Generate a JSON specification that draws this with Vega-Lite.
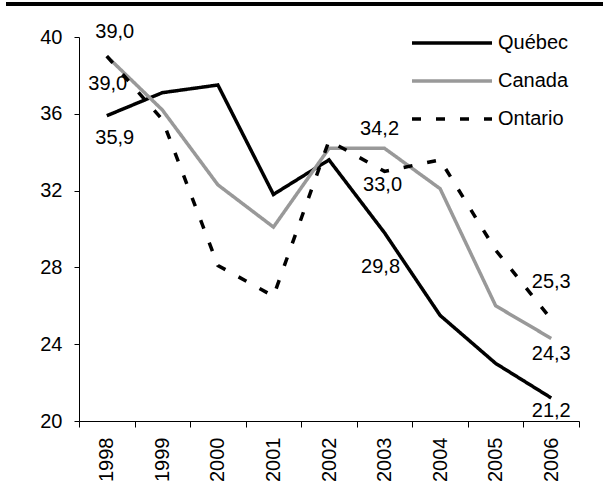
{
  "$schema": "https://vega.github.io/schema/vega-lite/v6.json",
  "background": "white",
  "padding": {"left": 6, "top": 2, "right": 0, "bottom": 0},
  "spacing": 16,
  "bounds": "full",
  "columns": 1,
  "config": {
    "view": {"stroke": null},
    "font": "Liberation Sans",
    "locale": {"number": {"decimal": ",", "thousands": " ", "grouping": [3], "currency": ["", " $"]}},
    "axis": {
      "domainColor": "#000000",
      "domainWidth": 1,
      "tickColor": "#000000",
      "tickWidth": 1,
      "labelColor": "#000000",
      "labelFont": "Liberation Sans",
      "labelFontSize": 20,
      "grid": false,
      "title": null
    },
    "legend": {
      "orient": "none",
      "legendX": 391,
      "legendY": 29,
      "title": null,
      "padding": 0,
      "symbolType": "M-7,0H1",
      "symbolSize": 400,
      "symbolStrokeWidth": 3.5,
      "labelFont": "Liberation Sans",
      "labelFontSize": 20,
      "labelColor": "#000000",
      "labelOffset": 4,
      "rowPadding": 16
    }
  },
  "datasets": {
    "rates": [
      {"region": "Québec", "year": "1998", "value": 35.9},
      {"region": "Québec", "year": "1999", "value": 37.1},
      {"region": "Québec", "year": "2000", "value": 37.5},
      {"region": "Québec", "year": "2001", "value": 31.8},
      {"region": "Québec", "year": "2002", "value": 33.6},
      {"region": "Québec", "year": "2003", "value": 29.8},
      {"region": "Québec", "year": "2004", "value": 25.5},
      {"region": "Québec", "year": "2005", "value": 23.0},
      {"region": "Québec", "year": "2006", "value": 21.2},
      {"region": "Canada", "year": "1998", "value": 39.0},
      {"region": "Canada", "year": "1999", "value": 36.2},
      {"region": "Canada", "year": "2000", "value": 32.3},
      {"region": "Canada", "year": "2001", "value": 30.1},
      {"region": "Canada", "year": "2002", "value": 34.2},
      {"region": "Canada", "year": "2003", "value": 34.2},
      {"region": "Canada", "year": "2004", "value": 32.1},
      {"region": "Canada", "year": "2005", "value": 26.0},
      {"region": "Canada", "year": "2006", "value": 24.3},
      {"region": "Ontario", "year": "1998", "value": 39.0},
      {"region": "Ontario", "year": "1999", "value": 35.7},
      {"region": "Ontario", "year": "2000", "value": 28.1},
      {"region": "Ontario", "year": "2001", "value": 26.5},
      {"region": "Ontario", "year": "2002", "value": 34.6},
      {"region": "Ontario", "year": "2003", "value": 33.0},
      {"region": "Ontario", "year": "2004", "value": 33.6},
      {"region": "Ontario", "year": "2005", "value": 28.9},
      {"region": "Ontario", "year": "2006", "value": 25.3}
    ]
  },
  "concat": [
    {
      "width": 524,
      "height": 4,
      "data": {"values": [{}]},
      "mark": {"type": "rect", "color": "#000000"},
      "encoding": {
        "x": {"datum": 0, "type": "quantitative", "scale": {"domain": [0, 1], "range": [-73, 524], "nice": false, "zero": false}, "axis": null},
        "x2": {"datum": 1},
        "y": {"datum": 0, "type": "quantitative", "scale": {"domain": [0, 1], "nice": false, "zero": false}, "axis": null},
        "y2": {"datum": 1}
      }
    },
    {
      "width": 500,
      "height": 384,
      "data": {"name": "rates"},
      "encoding": {
        "x": {
          "field": "year",
          "type": "ordinal",
          "bandPosition": 0.5,
          "scale": {"type": "band", "paddingInner": 0, "paddingOuter": 0},
          "axis": {"labelAngle": -90, "tickBand": "extent", "tickSize": 6, "labelPadding": 10}
        },
        "y": {
          "field": "value",
          "type": "quantitative",
          "scale": {"domain": [20, 40], "nice": false, "zero": false},
          "axis": {"values": [20, 24, 28, 32, 36, 40], "format": "d", "tickSize": 5, "labelPadding": 12, "minExtent": 73}
        }
      },
      "layer": [
        {
          "mark": {"type": "line", "strokeWidth": 3.5},
          "encoding": {
            "color": {
              "field": "region",
              "type": "nominal",
              "scale": {"domain": ["Québec", "Canada", "Ontario"], "range": ["#000000", "#999999", "#000000"]},
              "legend": {"title": null}
            },
            "strokeDash": {
              "field": "region",
              "type": "nominal",
              "scale": {"domain": ["Québec", "Canada", "Ontario"], "range": [[1, 0], [1, 0], [9, 15]]},
              "legend": {"title": null}
            }
          }
        },
        {
          "transform": [{"filter": "datum.region === 'Canada' && datum.year === '1998'"}],
          "mark": {"type": "text", "dx": 8, "dy": -24, "fontSize": 20, "color": "#000000"},
          "encoding": {"text": {"field": "value", "type": "quantitative", "format": ".1f"}}
        },
        {
          "transform": [{"filter": "datum.region === 'Ontario' && datum.year === '1998'"}],
          "mark": {"type": "text", "dx": 1, "dy": 28, "fontSize": 20, "color": "#000000"},
          "encoding": {"text": {"field": "value", "type": "quantitative", "format": ".1f"}}
        },
        {
          "transform": [{"filter": "datum.region === 'Québec' && datum.year === '1998'"}],
          "mark": {"type": "text", "dx": 8, "dy": 22, "fontSize": 20, "color": "#000000"},
          "encoding": {"text": {"field": "value", "type": "quantitative", "format": ".1f"}}
        },
        {
          "transform": [{"filter": "datum.region === 'Canada' && datum.year === '2003'"}],
          "mark": {"type": "text", "dx": -5, "dy": -19, "fontSize": 20, "color": "#000000"},
          "encoding": {"text": {"field": "value", "type": "quantitative", "format": ".1f"}}
        },
        {
          "transform": [{"filter": "datum.region === 'Ontario' && datum.year === '2003'"}],
          "mark": {"type": "text", "dx": -2, "dy": 14, "fontSize": 20, "color": "#000000"},
          "encoding": {"text": {"field": "value", "type": "quantitative", "format": ".1f"}}
        },
        {
          "transform": [{"filter": "datum.region === 'Québec' && datum.year === '2003'"}],
          "mark": {"type": "text", "dx": -4, "dy": 34, "fontSize": 20, "color": "#000000"},
          "encoding": {"text": {"field": "value", "type": "quantitative", "format": ".1f"}}
        },
        {
          "transform": [{"filter": "datum.region === 'Ontario' && datum.year === '2006'"}],
          "mark": {"type": "text", "dx": 0, "dy": -37, "fontSize": 20, "color": "#000000"},
          "encoding": {"text": {"field": "value", "type": "quantitative", "format": ".1f"}}
        },
        {
          "transform": [{"filter": "datum.region === 'Canada' && datum.year === '2006'"}],
          "mark": {"type": "text", "dx": 0, "dy": 16, "fontSize": 20, "color": "#000000"},
          "encoding": {"text": {"field": "value", "type": "quantitative", "format": ".1f"}}
        },
        {
          "transform": [{"filter": "datum.region === 'Québec' && datum.year === '2006'"}],
          "mark": {"type": "text", "dx": 0, "dy": 13, "fontSize": 20, "color": "#000000"},
          "encoding": {"text": {"field": "value", "type": "quantitative", "format": ".1f"}}
        }
      ]
    }
  ]
}
